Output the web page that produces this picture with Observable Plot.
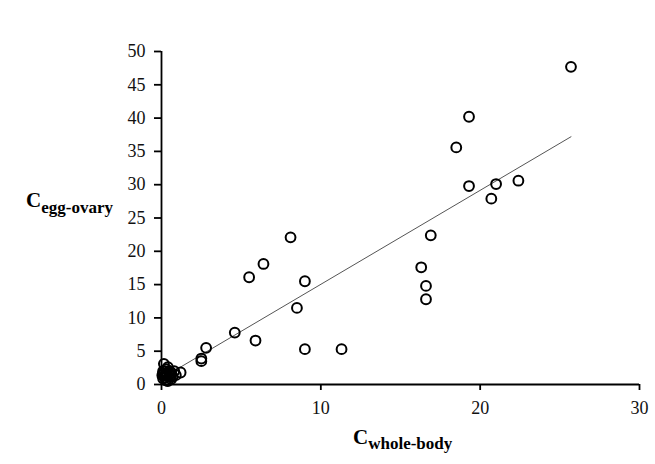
<!DOCTYPE html>
<html>
<head>
<meta charset="utf-8">
<script src="https://cdn.jsdelivr.net/npm/d3@7"></script>
<script src="https://cdn.jsdelivr.net/npm/@observablehq/plot@0.6"></script>
<style>
  html, body { margin: 0; padding: 0; background: #fff; }
  #chart { width: 655px; height: 464px; }
  #chart svg, #chart svg text { font-family: "Liberation Serif", serif !important; }
</style>
</head>
<body>
<div id="chart"></div>
<script>
// Data
const wholeBody = [25.7, 19.3, 18.5, 19.3, 21.0, 20.7, 22.4, 16.9, 16.3, 16.6, 16.6,
  8.1, 6.4, 5.5, 9.0, 8.5, 4.6, 5.9, 9.0, 11.3, 2.8, 2.5, 2.5,
  0.15, 0.3, 0.5, 0.2, 0.8, 1.2, 0.6, 0.1, 0.4, 0.7, 0.2, 0.9, 0.5, 0.3, 0.1,
  0.3, 0.5, 0.1, 0.4, 0.6, 0.2, 0.35, 0.05];
const eggOvary = [47.7, 40.2, 35.6, 29.8, 30.1, 27.9, 30.6, 22.4, 17.6, 14.8, 12.8,
  22.1, 18.1, 16.1, 15.5, 11.5, 7.8, 6.6, 5.3, 5.3, 5.5, 3.9, 3.5,
  3.1, 2.3, 1.5, 1.0, 2.0, 1.8, 0.8, 1.7, 2.6, 1.2, 1.3, 1.4, 2.0, 0.6, 2.0,
  1.6, 1.1, 0.9, 0.5, 1.8, 2.0, 1.3, 1.4];
const trendX = [0, 25.7];
const trendY = [0.93, 37.2];
const xTicks = [0, 10, 20, 30];
const yTicks = [0, 5, 10, 15, 20, 25, 30, 35, 40, 45, 50];

const pts = wholeBody.map((x, i) => ({x, y: eggOvary[i]}));
const trend = trendX.map((x, i) => ({x, y: trendY[i]}));

const serif = "Liberation Serif";
const plot = Plot.plot({
  width: 655,
  height: 464,
  marginLeft: 161,
  marginRight: 16,
  marginTop: 51,
  marginBottom: 80,
  style: { fontFamily: "Liberation Serif, serif", fontSize: "18px", color: "#000", background: "#fff" },
  x: { domain: [0, 30] },
  y: { domain: [0, 50] },
  marks: [
    Plot.axisX({ ticks: xTicks, tickSize: 6, tickPadding: 11, label: null, tickFormat: d => d, fontSize: 18, fontFamily: serif, fontVariant: "normal", stroke: "#000", strokeWidth: 1.8, fill: "#111" }),
    Plot.axisY({ ticks: yTicks, tickSize: 7, tickPadding: 9, label: null, tickFormat: d => d, fontSize: 18, fontFamily: serif, fontVariant: "normal", stroke: "#000", strokeWidth: 1.8, fill: "#111" }),
    Plot.ruleY([0], { stroke: "#000", strokeWidth: 1.8 }),
    Plot.ruleX([0], { stroke: "#000", strokeWidth: 1.8 }),
    Plot.line(trend, { x: "x", y: "y", stroke: "#555", strokeWidth: 1 }),
    Plot.dot(pts, { x: "x", y: "y", r: 4.9, stroke: "#000", strokeWidth: 2, fill: "none" })
  ]
});

const svg = d3.select(plot);
function addLabel(x, y, main, sub, dy) {
  const t = svg.append("text")
    .attr("x", x).attr("y", y)
    .attr("text-anchor", "start")
    .attr("font-family", serif)
    .attr("font-weight", "bold")
    .attr("fill", "#000");
  t.append("tspan").attr("font-size", 21).text(main);
  t.append("tspan").attr("font-size", 17).attr("dy", dy).text(sub);
}
addLabel(26, 207, "C", "egg-ovary", 6);
addLabel(353, 444, "C", "whole-body", 5);

document.getElementById("chart").appendChild(plot);
</script>
</body>
</html>
